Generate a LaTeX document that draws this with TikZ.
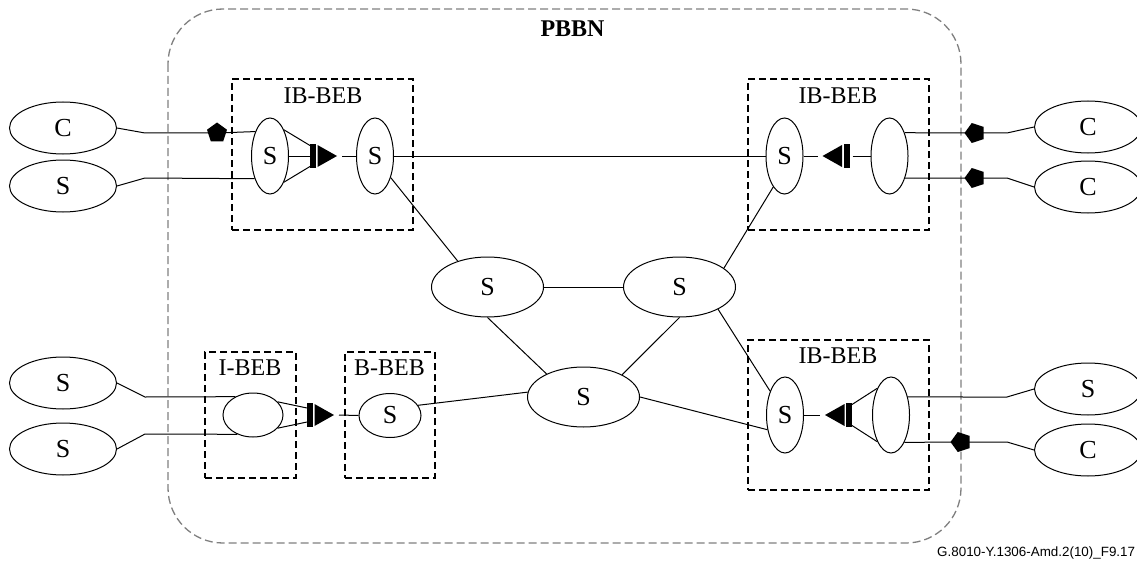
\documentclass[tikz,border=0pt]{standalone}
\usepackage{fontspec}
\setmainfont{Liberation Serif}
\newfontfamily\arialf{Liberation Sans}
\usetikzlibrary{shapes.geometric,calc}
\begin{document}
\begin{tikzpicture}[x=1pt,y=-1pt,
  conn/.style={line width=1pt},
  ell/.style={ellipse, draw, line width=1pt, fill=white, inner sep=0pt, font=\fontsize{26}{28}\selectfont},
  outer/.style={ell, minimum width=107pt, minimum height=52pt},
  tall/.style={ell, minimum width=37pt, minimum height=76pt},
  mid/.style={ell, minimum width=112pt, minimum height=60pt},
  small/.style={ell, minimum width=61pt, minimum height=44pt},
  dbox/.style={draw, dash pattern=on 7pt off 4pt, line width=1.4pt, inner sep=0pt},
  lbl/.style={inner sep=0pt, font=\fontsize{24}{26}\selectfont},
  pent/.style={regular polygon, regular polygon sides=5, fill=black, inner sep=0pt, minimum size=21pt},
  adapt/.pic={
    \fill (-13.5,-12) rectangle (-7.5,12);
    \fill (-6,-11) -- (-6,11) -- (13.5,0) -- cycle;
    \coordinate (-tip) at (13.5,0);
    \coordinate (-out) at (18.5,0);
    \coordinate (-back) at (-13.5,0);
    \coordinate (-bk) at (-16.5,0);
    \coordinate (-bu) at (-13.5,-10.5);
    \coordinate (-bd) at (-13.5,10.5);
    \coordinate (-iu) at (-13.5,-7);
    \coordinate (-id) at (-13.5,7);
  }
]
\path[fill=white,use as bounding box] (0,0) rectangle (1137,567);

% PBBN domain
\draw[color={rgb,255:red,128;green,128;blue,128}, dash pattern=on 8pt off 4pt, line width=1.3pt, rounded corners=55pt] (168,9) rectangle (961,543);
\node[lbl, font=\fontsize{24}{26}\selectfont\bfseries] (pbbn) at (572.5,29) {PBBN};

% dashed bridge boxes
\node[dbox, minimum width=181pt, minimum height=151pt] (tlbox) at (322.5,154.5) {};
\node[dbox, minimum width=181pt, minimum height=151pt] (trbox) at (838.5,154.5) {};
\node[dbox, minimum width=181pt, minimum height=150pt] (brbox) at (838.5,415) {};
\node[dbox, minimum width=91pt, minimum height=126pt] (ibox) at (250.5,415) {};
\node[dbox, minimum width=90pt, minimum height=126pt] (bbox) at (390,415) {};
\node[lbl] (tlboxl) at (323,96) {IB-BEB};
\node[lbl] (trboxl) at (838,96) {IB-BEB};
\node[lbl] (brboxl) at (838,356) {IB-BEB};
\node[lbl] (iboxl) at (250,368) {I-BEB};
\node[lbl] (bboxl) at (389.5,368) {B-BEB};

% outer ellipses
\node[outer] (lc1) at (63,128) {C};
\node[outer] (ls2) at (63,186) {S};
\node[outer] (ls3) at (63,383) {S};
\node[outer] (ls4) at (63,449) {S};
\node[outer] (rc1) at (1088,127) {C};
\node[outer] (rc2) at (1088,187) {C};
\node[outer] (rs3) at (1088,389) {S};
\node[outer] (rc4) at (1088,450) {C};

% bridge ellipses
\node[tall] (s1) at (270,156) {S};
\node[tall] (s2) at (375,156) {S};
\node[tall] (trs) at (784.5,156) {S};
\node[tall] (tre) at (889.5,156) {};
\node[tall] (brs) at (785,415) {S};
\node[tall] (bre) at (891,415) {};
\node[mid] (cl) at (487.5,287) {S};
\node[mid] (cr) at (679.5,287) {S};
\node[mid] (bs) at (583.5,397) {S};
\node[small, minimum width=60pt] (ibe) at (253,415) {};
\node[small, minimum width=62pt] (bbs) at (390,415.5) {S};

% pentagons
\node[pent] (p1) at (217,133) {};
\node[pent, rotate=90] (p2) at (975,133) {};
\node[pent, rotate=90] (p3) at (975,178) {};
\node[pent, rotate=90] (p4) at (961,442) {};

% adaptation symbols
\pic (tla) at (323.5,156) {adapt};
\pic[xscale=-1] (tra) at (836,156) {adapt};
\pic[xscale=-1] (bra) at (838.5,415) {adapt};
\pic (iba) at (320.5,415) {adapt};

% top-left
\draw[conn] (lc1.east) -- (145,133) -- (p1.center) -- (s1.121.7);
\draw[conn] (ls2.east) -- (145,178) -- (s1.236.4);
\draw[conn] (s1.62.5) -- (tla-bu);
\draw[conn] (s1.east) -- (tla-back);
\draw[conn] (s1.-62.5) -- (tla-bd);
\draw[conn] (tla-out) -- (s2.west);
\draw[conn] (s2.east) -- (trs.west);
\draw[conn] (s2.-54.7) -- (cl.139);
% top-right
\draw[conn] (trs.east) -- (tra-out);
\draw[conn] (tra-bk) -- (tre.west);
\draw[conn] (tre.57.4) -- (p2.center) -- (1007,133) -- (rc1.west);
\draw[conn] (tre.-55.5) -- (p3.center) -- (1007,178) -- (rc2.west);
\draw[conn] (cr.23) -- (trs.250.5);
% centre
\draw[conn] (cl.east) -- (cr.west);
\draw[conn] (cl.south) -- (bs.148);
\draw[conn] (cr.south) -- (bs.30);
\draw[conn] (cr.-30) -- (brs.122);
\draw[conn] (bs.175) -- (bbs.20);
\draw[conn] (bs.east) -- (brs.220);
% bottom-left
\draw[conn] (ls3.east) -- (145,397) -- (ibe.134);
\draw[conn] (ls4.east) -- (145,434) -- (ibe.231.5);
\draw[conn] (ibe.28) -- (iba-iu);
\draw[conn] (ibe.-28) -- (iba-id);
\draw[conn] (iba-out) -- (bbs.west);
% bottom-right
\draw[conn] (brs.east) -- (bra-out);
\draw[conn] (bre.117.5) -- (bra-bu);
\draw[conn] (bre.-117.5) -- (bra-bd);
\draw[conn] (bre.47.8) -- (1007,397) -- (rs3.west);
\draw[conn] (bre.-64.3) -- (p4.center) -- (1007,442) -- (rc4.west);

% figure id
\node[inner sep=0pt, anchor=west, font=\arialf\fontsize{13.4}{16}\selectfont] (figid) at (937,553) {G.8010-Y.1306-Amd.2(10)\_F9.17};
\end{tikzpicture}
\end{document}
